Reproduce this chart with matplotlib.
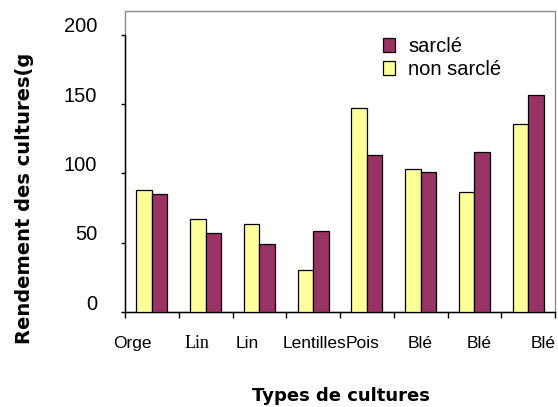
import numpy as np
import matplotlib
matplotlib.use("Agg")
import matplotlib.pyplot as plt
from matplotlib.transforms import ScaledTranslation
from matplotlib.patches import Rectangle, Patch

# --- Data ---
categories = ["Orge", "Lin", "Lin", "Lentilles", "Pois", "Blé", "Blé", "Blé"]
non_sarcle = [88, 67, 63.5, 30, 147, 103.5, 86.5, 135.5]
sarcle = [85, 57, 49, 58.5, 113, 101, 115.5, 157]
yticks = [0, 50, 100, 150, 200]

# label x positions (data units) and fonts, as in the original layout
label_x = [-0.37, 0.84, 1.78, 3.03, 3.92, 4.99, 6.09, 7.28]
label_font = ["Liberation Sans", "Liberation Serif", "Liberation Sans", "Liberation Sans",
              "Liberation Sans", "Liberation Sans", "Liberation Sans", "Liberation Sans"]

YELLOW = "#FFFF99"
PURPLE = "#993366"

plt.rcParams['font.family'] = ['Liberation Sans', 'DejaVu Sans']

fig = plt.figure(figsize=(5.58, 4.07), dpi=100)
ax = fig.add_axes([125 / 558, 1 - 312 / 407, 430 / 558, 301 / 407])

x = np.arange(len(categories))
w = 0.29
ax.bar(x - w / 2, non_sarcle, w, color=YELLOW, edgecolor="black", linewidth=0.9, zorder=3)
ax.bar(x + w / 2, sarcle, w, color=PURPLE, edgecolor="black", linewidth=0.9, zorder=3)

ax.set_xlim(-0.5, len(categories) - 0.5)
ax.set_ylim(0, 217.3)

# gray plot-area frame, black axes on left (0..200) and bottom
ax.add_patch(Rectangle((0, 0), 1, 1, transform=ax.transAxes, fill=False,
                       edgecolor="#8c8c8c", linewidth=1, zorder=1, clip_on=False))
for s in ["top", "right"]:
    ax.spines[s].set_visible(False)
ax.spines["left"].set_bounds(0, 200)
ax.spines["left"].set_linewidth(1)
ax.spines["bottom"].set_linewidth(1)

ax.set_xticks(np.arange(len(categories) + 1) - 0.5)
ax.set_xticklabels([])
ax.tick_params(axis="x", direction="out", length=4.5, width=1)

ax.set_yticks(yticks)
ax.set_yticklabels([str(v) for v in yticks], fontsize=14.5)
ax.tick_params(axis="y", direction="out", length=3, width=1, pad=17)
offset = ScaledTranslation(0, 0.1, fig.dpi_scale_trans)
for lab in ax.get_yticklabels():
    lab.set_transform(lab.get_transform() + offset)

for xi, name, fam in zip(label_x, categories, label_font):
    ax.text(xi, -0.103, name, transform=ax.get_xaxis_transform(), ha="center", va="center",
            fontsize=13 if fam == "Liberation Serif" else 12.5, family=fam)

handles = [Patch(facecolor=PURPLE, edgecolor="black", linewidth=0.9),
           Patch(facecolor=YELLOW, edgecolor="black", linewidth=0.9)]
fig.legend(handles, ["sarclé", "non sarclé"], loc="upper left",
           bbox_to_anchor=(383 / 558, 1 - 37 / 407), frameon=False, fontsize=14.5,
           handlelength=0.6, handleheight=0.7, handletextpad=0.65, labelspacing=0.2,
           borderpad=0, borderaxespad=0)

fig.text(25 / 558, 1 - 198 / 407, "Rendement des cultures(g", rotation=90, ha="center",
         va="center", fontsize=14, fontweight="bold", family="DejaVu Sans")
fig.text(341 / 558, 1 - 396 / 407, "Types de cultures", ha="center", va="center",
         fontsize=13, fontweight="bold", family="DejaVu Sans")

fig.savefig("out.png", dpi=100)
